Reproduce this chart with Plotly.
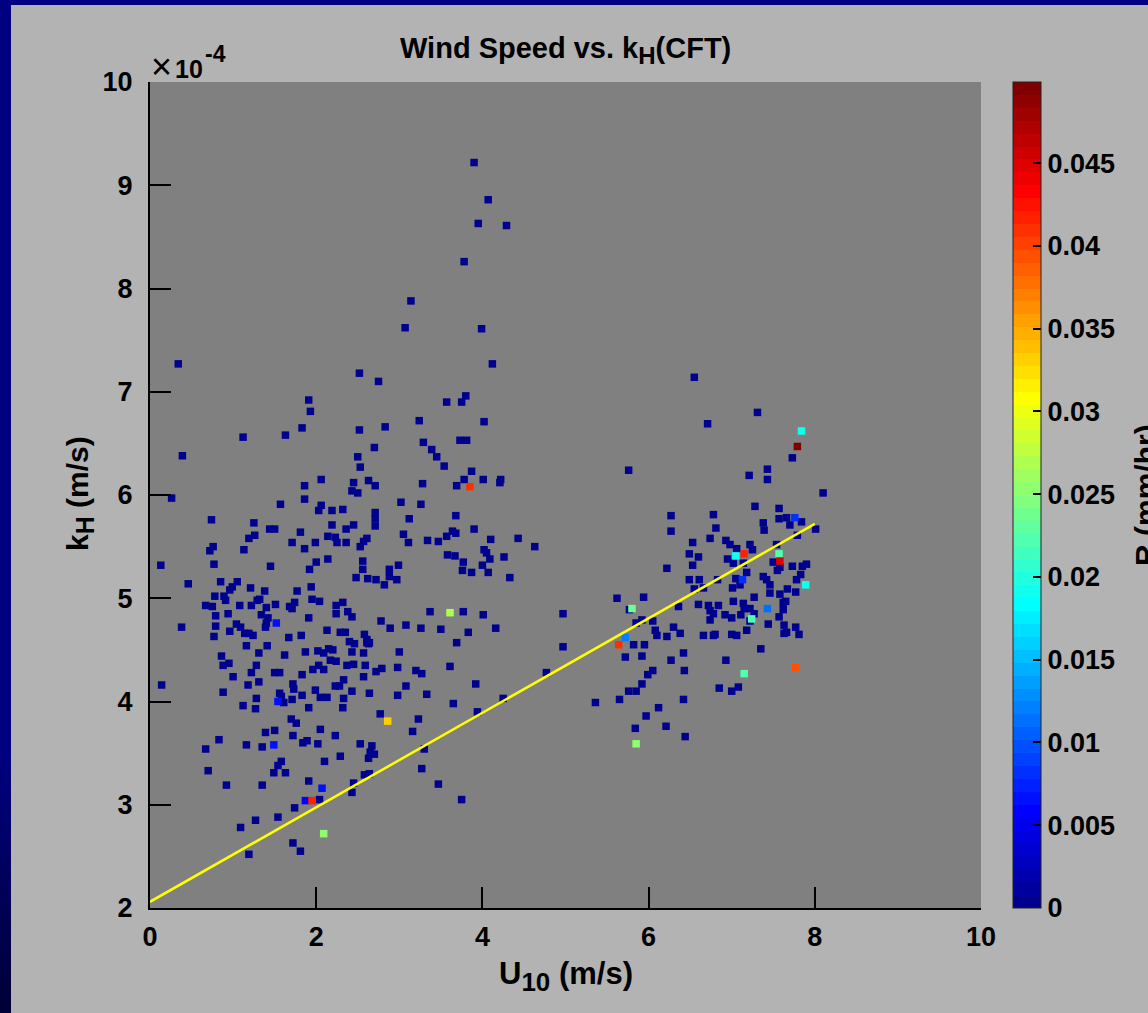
import plotly.graph_objects as go

# ---------------- data ----------------
# navy points (R = 0)
u10_dry = [3.90,4.07,3.95,4.29,3.78,3.14,3.07,3.99,0.34,4.12,2.52,2.75,1.91,3.80,3.57,3.75,1.93,4.02,3.24,1.12,
           1.63,1.83,2.52,2.83,0.39,2.70,3.29,3.39,3.45,3.54,3.73,3.81,2.50,2.53,3.87,
           3.78,3.69,4.01,4.22,4.21,2.06,1.86,2.45,2.43,2.50,2.63,2.71,3.28,0.26,1.86,1.57,2.06,2.03,2.19,2.32,
           2.71,2.71,2.71,3.02,3.26,3.68,3.12,0.74,1.25,1.44,1.50,1.81,2.19,2.36,2.45,1.26,1.19,1.71,1.86,1.99,
           2.14,2.23,2.25,2.36,2.53,2.57,2.61,3.05,3.11,3.34,3.47,3.57,3.64,3.68,3.90,4.10,4.43,4.63,0.72,0.76,
           1.13,0.13,0.77,1.45,1.92,2.00,2.14,2.56,2.56,2.48,2.62,2.72,2.82,2.88,2.88,2.99,2.97,3.58,3.67,3.77,
           3.76,3.87,4.02,4.05,4.09,4.00,4.07,4.26,4.33,0.46,0.85,1.05,0.99,0.96,1.21,1.38,0.78,0.89,0.91,0.67,
           0.75,1.08,1.22,1.29,1.32,1.40,1.51,1.77,1.94,1.95,2.04,1.68,1.74,1.71,2.24,2.32,2.24,2.38,2.43,1.34,
           1.42,1.40,1.39,0.94,0.79,0.79,0.38,1.91,2.13,2.29,2.35,2.58,2.61,2.64,2.78,2.89,3.08,3.26,3.50,3.37,
           3.77,3.83,4.01,4.16,0.77,0.96,1.04,1.09,1.14,1.24,1.19,1.82,1.67,1.16,1.41,1.31,1.62,1.87,2.02,2.09,
           2.15,2.20,2.17,2.24,2.43,2.57,2.40,2.46,2.61,2.63,3.00,3.69,0.86,0.95,0.88,1.00,0.88,1.28,1.22,1.31,
           1.18,1.50,1.56,1.83,1.96,2.03,2.09,2.37,2.45,2.59,2.57,2.72,2.79,2.98,3.20,3.27,3.61,0.14,1.72,1.73,
           1.83,1.99,2.05,2.13,2.23,2.28,2.33,2.43,2.33,2.64,1.56,1.58,1.61,1.71,1.28,1.27,1.12,1.91,2.32,2.98,
           3.08,3.33,3.65,3.92,4.25,4.77,2.77,3.23,3.16,3.94,1.70,1.76,2.05,2.23,1.39,1.50,1.72,1.84,1.89,2.02,
           2.53,2.67,2.65,2.70,2.63,0.83,0.67,1.16,1.35,3.30,2.29,2.10,1.58,1.54,1.49,1.63,0.70,2.58,2.64,3.27,
           0.92,1.35,1.91,3.47,2.45,2.43,2.04,3.75,1.74,1.54,1.27,1.09,1.72,1.81,1.19,
           6.55,7.31,6.71,7.73,5.76,7.43,7.43,7.21,8.10,7.28,7.57,6.27,6.78,6.27,7.57,7.66,7.84,7.70,7.38,7.39,
           8.01,7.79,6.81,6.74,6.53,6.93,6.98,7.06,7.22,7.25,7.54,6.49,6.60,6.53,6.95,7.02,7.14,7.50,7.58,7.55,
           7.73,7.85,7.90,7.83,7.78,7.77,6.22,7.18,7.05,7.38,7.42,7.46,6.49,6.61,6.83,6.66,6.55,7.01,7.10,7.67,
           7.46,7.58,5.62,5.94,4.97,5.77,6.36,6.60,6.72,6.84,7.02,7.14,7.27,7.15,7.22,7.27,7.62,7.65,7.62,7.57,
           6.74,6.78,6.74,6.92,7.00,7.11,7.22,7.44,7.63,7.77,7.63,7.66,7.81,7.18,5.85,5.92,6.05,6.08,6.10,6.22,
           6.30,6.38,6.66,6.78,6.80,7.00,7.06,5.82,5.95,5.72,5.92,4.97,6.42,6.27,6.43,6.05,5.99,5.92,5.85,5.76,
           5.65,5.36,6.93,7.35,6.85,7.00,7.08,6.42,6.12,5.97,6.21,5.84,6.44]
kh_dry = [9.22,8.86,8.63,8.61,8.26,7.88,7.62,7.61,7.27,7.27,7.18,7.10,6.92,6.96,6.90,6.90,6.81,6.71,6.72,6.56,
          6.58,6.65,6.63,6.66,6.38,6.46,6.51,6.44,6.37,6.28,6.53,6.53,6.37,6.27,6.23,
          6.15,6.09,6.15,6.15,6.12,6.15,6.09,6.12,6.04,6.02,6.14,6.09,6.11,5.97,5.96,5.91,5.90,5.85,5.85,5.86,
          5.83,5.77,5.70,5.93,5.91,5.80,5.77,5.76,5.73,5.67,5.67,5.64,5.71,5.67,5.71,5.61,5.58,5.54,5.48,5.54,
          5.60,5.59,5.54,5.54,5.50,5.55,5.58,5.62,5.54,5.56,5.55,5.60,5.65,5.63,5.67,5.57,5.58,5.50,5.46,5.50,
          5.47,5.32,5.33,5.31,5.28,5.35,5.38,5.36,5.28,5.20,5.19,5.18,5.13,5.28,5.21,5.32,5.18,5.42,5.41,5.35,
          5.27,5.25,5.47,5.44,5.38,5.32,5.25,5.40,5.20,5.14,5.16,5.16,5.11,5.08,5.10,5.07,5.02,5.02,4.98,4.93,
          4.92,4.93,4.93,4.98,4.99,4.91,4.94,5.07,5.11,4.99,4.97,4.92,4.96,4.90,4.93,4.96,4.85,4.87,4.82,4.84,
          4.81,4.76,4.72,4.85,4.83,4.73,4.72,4.81,4.69,4.67,4.67,4.65,4.57,4.57,4.78,4.71,4.74,4.71,4.70,4.87,
          4.87,4.67,4.84,4.71,4.63,4.68,4.75,4.72,4.66,4.64,4.66,4.64,4.62,4.54,4.54,4.47,4.45,4.48,4.49,4.47,
          4.51,4.50,4.40,4.39,4.48,4.47,4.58,4.56,4.60,4.56,4.48,4.57,4.44,4.37,4.35,4.24,4.09,4.35,4.28,4.19,
          4.16,4.28,4.28,4.26,4.31,4.35,4.31,4.35,4.36,4.35,4.24,4.29,4.32,4.33,4.30,4.27,4.34,4.16,4.17,4.12,
          4.06,4.11,4.04,4.04,4.15,4.15,4.21,4.10,4.03,4.08,4.08,4.05,3.99,4.02,4.03,3.93,3.96,3.94,3.94,4.06,
          4.15,4.07,3.98,4.17,4.03,4.28,3.88,3.83,3.71,3.90,3.83,3.79,3.73,3.67,3.70,3.72,3.67,3.60,3.62,3.59,
          3.59,3.57,3.51,3.49,3.45,3.63,3.54,3.58,3.56,3.54,3.47,3.42,3.42,3.38,3.31,3.31,3.33,3.29,3.30,3.35,
          3.19,3.19,3.23,3.20,3.21,3.12,3.05,3.05,2.97,2.88,2.85,2.78,2.63,2.55,2.52,
          7.14,6.80,6.69,6.36,6.24,6.25,6.15,6.19,6.02,5.89,5.87,5.80,5.81,5.65,5.77,5.78,5.74,5.71,5.73,5.66,
          5.67,5.61,5.68,5.58,5.54,5.56,5.52,5.48,5.52,5.47,5.52,5.43,5.40,5.32,5.38,5.34,5.34,5.35,5.30,5.27,
          5.31,5.31,5.33,5.23,5.18,5.06,5.29,5.25,5.19,5.21,5.18,5.13,5.18,5.18,5.18,5.10,5.09,5.10,5.13,5.09,
          5.05,5.04,5.00,5.01,4.85,4.89,4.92,4.94,4.93,4.93,4.97,4.95,5.01,4.90,4.90,4.85,4.96,4.97,4.89,4.82,
          4.88,4.85,4.79,4.84,4.81,4.84,4.78,4.75,4.74,4.72,4.66,4.67,4.65,4.69,4.76,4.79,4.78,4.69,4.64,4.63,
          4.72,4.66,4.64,4.64,4.65,4.65,4.64,4.55,4.55,4.43,4.44,4.53,4.47,4.40,4.30,4.30,4.26,4.17,4.10,4.10,
          4.02,3.99,4.40,4.51,4.13,4.10,4.14,4.02,3.94,3.86,3.76,3.74,3.66]

# points with rain (R > 0)
u10_wet = [3.85,3.61,1.52,1.54,2.86,1.49,2.07,1.87,1.95,2.09,7.84,7.79,7.76,7.15,7.05,7.57,7.58,7.89,7.13,
           7.43,7.24,5.80,5.72,5.64,7.77,7.15,5.85]
kh_wet = [6.08,4.86,4.76,4.00,3.81,3.58,3.16,3.04,3.04,2.72,6.62,6.47,5.78,5.43,5.41,5.43,5.36,5.13,5.18,
          4.90,4.80,4.90,4.62,4.55,4.33,4.27,3.59]
rain_wet = [0.041,0.027,0.007,0.007,0.033,0.007,0.007,0.006,0.042,0.025,0.019,0.0499,0.008,0.042,0.019,0.022,
            0.045,0.019,0.008,0.011,0.022,0.024,0.012,0.041,0.039,0.022,0.025]

# linear fit line end points
fit_u10 = [0.0, 8.0]
fit_kh = [2.06, 5.72]

x_ticks = [0, 2, 4, 6, 8, 10]
y_ticks = [2, 3, 4, 5, 6, 7, 8, 9, 10]
cb_ticks = [0, 0.005, 0.01, 0.015, 0.02, 0.025, 0.03, 0.035, 0.04, 0.045]
cb_ticktext = ["0", "0.005", "0.01", "0.015", "0.02", "0.025", "0.03", "0.035", "0.04", "0.045"]

# ---------------- style ----------------
W, H = 1148, 1013
ML, MR, MT, MB = 150, 167, 82, 105
PW, PH = W - ML - MR, H - MT - MB
FONT = "Liberation Sans, Arial, Helvetica, sans-serif"


def px_x(p):
    return (p - ML) / PW


def px_y(p):
    return (H - MB - p) / PH


def jet64():
    cs = []
    n = 64
    for i in range(n):
        t = (i + 1) / n
        r = min(1, max(0, 1.5 - abs(4 * t - 3)))
        g = min(1, max(0, 1.5 - abs(4 * t - 2)))
        b = min(1, max(0, 1.5 - abs(4 * t - 1)))
        c = "rgb(%d,%d,%d)" % (round(r * 255), round(g * 255), round(b * 255))
        cs.append([i / n, c])
        cs.append([(i + 1) / n, c])
    return cs


fig = go.Figure()
fig.add_trace(go.Scatter(
    x=u10_dry, y=kh_dry, mode="markers",
    marker=dict(symbol="square", size=7.5, color=[0] * len(u10_dry), coloraxis="coloraxis",
                line=dict(width=0)),
    showlegend=False, hoverinfo="skip"))
fig.add_trace(go.Scatter(
    x=u10_wet, y=kh_wet, mode="markers",
    marker=dict(symbol="square", size=7.5, color=rain_wet, coloraxis="coloraxis",
                line=dict(width=0)),
    showlegend=False, hoverinfo="skip"))
fig.add_trace(go.Scatter(
    x=fit_u10, y=fit_kh, mode="lines", line=dict(color="#ffff00", width=2.5),
    showlegend=False, hoverinfo="skip"))

tickfont = dict(family=FONT, size=27, color="black", weight="bold")

fig.update_layout(
    width=W, height=H,
    margin=dict(l=ML, r=MR, t=MT, b=MB, autoexpand=False),
    paper_bgcolor="#b3b3b3",
    plot_bgcolor="#808080",
    font=dict(family=FONT, color="black"),
    xaxis=dict(range=[0, 10], tickvals=x_ticks, ticks="inside", ticklen=21, tickwidth=2,
               tickcolor="black", showline=True, linecolor="black", linewidth=2,
               showgrid=False, zeroline=False, tickfont=tickfont, ticklabelstandoff=4),
    yaxis=dict(range=[2, 10], tickvals=y_ticks, ticks="inside", ticklen=21, tickwidth=2,
               tickcolor="black", showline=True, linecolor="black", linewidth=2,
               showgrid=False, zeroline=False, tickfont=tickfont, ticklabelstandoff=10),
    coloraxis=dict(
        colorscale=jet64(), cmin=0, cmax=0.0499,
        colorbar=dict(x=px_x(1013), xanchor="left", xpad=0, ypad=0, y=0.5, yanchor="middle",
                      len=1, lenmode="fraction", thickness=28, outlinecolor="#222",
                      outlinewidth=1, ticks="inside", ticklen=8, tickwidth=2, tickcolor="black",
                      tickvals=cb_ticks, ticktext=cb_ticktext, tickfont=tickfont)),
)

shapes = []
navy = "#000080"
# top strip
shapes.append(dict(type="rect", xref="paper", yref="paper", x0=px_x(-2), x1=px_x(W + 2),
                   y0=px_y(5), y1=px_y(-2), fillcolor=navy, line=dict(width=0), layer="below"))
# left strip with a dark gradient towards the bottom
n_bands = 16
band_edges = [0, 760] + [760 + i * (H - 760) / n_bands for i in range(1, n_bands + 1)]
for i in range(len(band_edges) - 1):
    y0p, y1p = band_edges[i], band_edges[i + 1] + 1
    f = max(0.0, (band_edges[i + 1] - 760) / (H - 760))
    c = "rgb(0,0,%d)" % round(128 - 72 * f)
    shapes.append(dict(type="rect", xref="paper", yref="paper", x0=px_x(-2), x1=px_x(11),
                       y0=px_y(min(y1p, H + 2)), y1=px_y(y0p - (2 if i == 0 else 0)),
                       fillcolor=c, line=dict(width=0), layer="below"))
fig.update_layout(shapes=shapes)

ann = []
ann.append(dict(text="Wind Speed vs. k<sub><span style='font-size:24px'>H</span></sub>(CFT)",
                xref="paper", yref="paper",
                x=px_x(565), y=px_y(50), xanchor="center", yanchor="middle", showarrow=False,
                font=dict(family=FONT, size=29, color="black", weight="bold")))
ann.append(dict(text="U<sub><span style='font-size:26px'>10</span></sub> (m/s)",
                xref="paper", yref="paper",
                x=px_x(566), y=px_y(976), xanchor="center", yanchor="middle", showarrow=False,
                font=dict(family=FONT, size=31, color="black", weight="bold")))
ann.append(dict(text="k<sub><span style='font-size:25px'>H</span></sub> (m/s)",
                xref="paper", yref="paper", textangle=-90,
                x=px_x(80), y=px_y(494), xanchor="center", yanchor="middle", showarrow=False,
                font=dict(family=FONT, size=30, color="black", weight="bold")))
ann.append(dict(text="×", xref="paper", yref="paper",
                x=px_x(149), y=px_y(67), xanchor="left", yanchor="middle", showarrow=False,
                font=dict(family=FONT, size=36, color="black")))
ann.append(dict(text="10", xref="paper", yref="paper",
                x=px_x(173), y=px_y(69), xanchor="left", yanchor="middle", showarrow=False,
                font=dict(family=FONT, size=25, color="black", weight="bold")))
ann.append(dict(text="-4", xref="paper", yref="paper",
                x=px_x(203), y=px_y(54), xanchor="left", yanchor="middle", showarrow=False,
                font=dict(family=FONT, size=23, color="black", weight="bold")))
ann.append(dict(text="R (mm/hr)", xref="paper", yref="paper", textangle=-90,
                x=px_x(1145), y=px_y(495), xanchor="center", yanchor="middle", showarrow=False,
                font=dict(family=FONT, size=30, color="black", weight="bold")))
fig.update_layout(annotations=ann)

fig.write_html("out.html", config={"displayModeBar": False},
               post_script="document.body.style.margin='0';")
